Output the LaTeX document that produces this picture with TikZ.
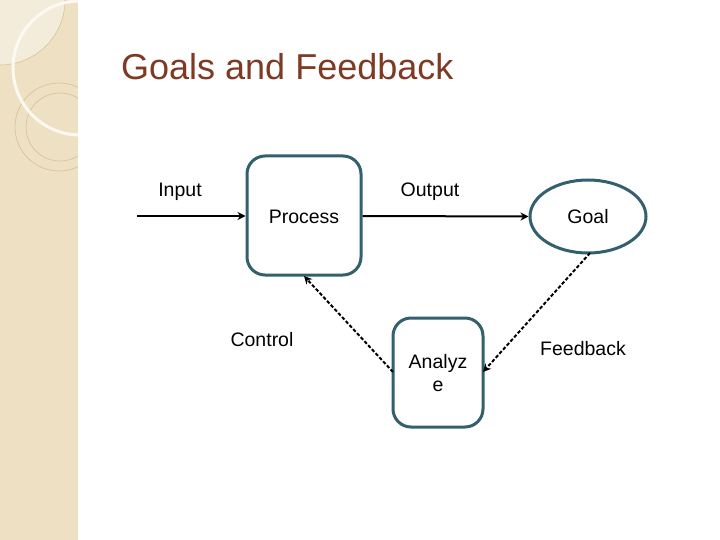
\documentclass[tikz,border=0pt]{standalone}
\usepackage{fontspec}
\setmainfont{Liberation Sans}
\usetikzlibrary{arrows.meta,shapes.geometric}
\definecolor{strip}{HTML}{EEE0C2}
\definecolor{striplight}{HTML}{F4ECDB}
\definecolor{ringline}{HTML}{D8C496}
\definecolor{boxline}{HTML}{33606E}
\definecolor{titlecol}{HTML}{7E3A22}
\tikzset{
  procbox/.style={draw=boxline, line width=3pt, rounded corners=18pt, fill=white},
  goalshape/.style={draw=boxline, line width=3pt, ellipse, fill=white},
  lbl/.style={font=\fontsize{19.5}{23}\selectfont, inner sep=0pt},
  flow/.style={line width=2pt, -{Stealth[length=8pt,width=8pt]}},
  dflow/.style={line width=2pt, dash pattern=on 3.5pt off 2pt, -{Stealth[length=8pt,width=8pt]}}
}
\begin{document}
\begin{tikzpicture}[x=1pt,y=-1pt]
\useasboundingbox (0,0) rectangle (720,540);
\fill[white] (0,0) rectangle (720,540);
% left decorative strip
\fill[strip] (0,0) rectangle (78,540);
\begin{scope}
\clip (0,0) rectangle (78,540);
\fill[striplight] (0,0) circle (65);
\draw[ringline, line width=0.6pt] (0,0) circle (65);
\draw[ringline, line width=0.7pt] (59,127) circle (44);
\draw[ringline, line width=0.7pt] (60,127) circle (34);
\draw[white!80!strip, line width=3pt] (80,68) circle (67);
\end{scope}
% title
\node[anchor=base west, inner sep=0pt, text=titlecol, font=\fontsize{36}{40}\selectfont] (title) at (121,80) {Goals and Feedback};
% nodes
\node[procbox, minimum width=114pt, minimum height=119pt] (proc) at (304,215.5) {};
\node[lbl] (proct) at (304,217) {Process};
\node[goalshape, minimum width=116pt, minimum height=73pt, inner sep=0pt] (goal) at (588,216.5) {};
\node[lbl] (goalt) at (588,217) {Goal};
\node[procbox, minimum width=90pt, minimum height=109pt] (ana) at (438,372.5) {};
\node[lbl, align=center] (anat) at (438,373) {Analyz\\e};
% labels
\node[lbl] (inl) at (180,192) {Input};
\node[lbl] (outl) at (430,192) {Output};
\node[lbl] (ctl) at (262,340) {Control};
\node[lbl] (fbl) at (583,349) {Feedback};
% connectors
\coordinate (instart) at (137,216);
\draw[flow] (instart) -- (proc.west |- instart);
\draw[flow] (proc.east |- instart) -- (goal.west);
\coordinate (anaL) at (393,372);
\coordinate (anaR) at (483,372);
\coordinate (procB) at (304,276);
\coordinate (goalB) at (590,253);
\draw[dflow] (anaL) -- (procB);
\draw[dflow] (goalB) -- (anaR);
\end{tikzpicture}
\end{document}
